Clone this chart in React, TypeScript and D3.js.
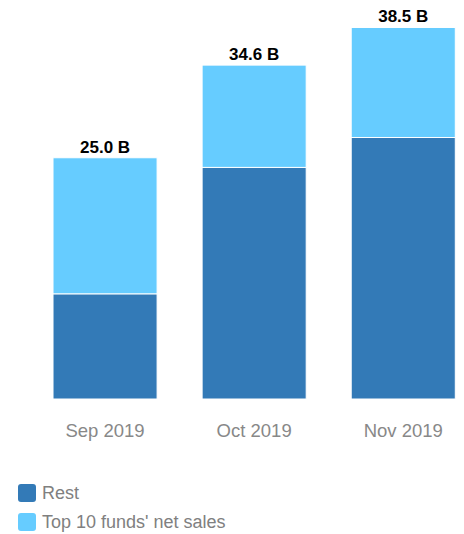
import React from 'react';
import * as d3 from 'd3';

const months = ['Sep 2019', 'Oct 2019', 'Nov 2019'];
const rest = [10.9, 24.0, 27.1];
const top10 = [14.1, 10.6, 11.4];
const totalLabels = ['25.0 B', '34.6 B', '38.5 B'];
const seriesNames = ['Rest', "Top 10 funds' net sales"];
const colors = ['#337ab7', '#66ccff'];

const width = 464;
const height = 534;
const font = '"Liberation Sans", Arial, sans-serif';

export default function App() {
  const x = d3.scaleBand()
    .domain(months)
    .range([30.65, 477.65])
    .paddingInner(0.302)
    .paddingOuter(0.15);
  const y = d3.scaleLinear()
    .domain([0, 40])
    .range([399, 13]);

  const rows = months.map((m, i) => ({ month: m, rest: rest[i], top10: top10[i] }));
  const stacked = d3.stack<any>().keys(['rest', 'top10'])(rows);

  return (
    <svg width={width} height={height}
      style={{ position: 'absolute', left: 0, top: 0, fontFamily: font }}>
      {stacked.map((layer, li) => (
        <g key={layer.key}>
          {layer.map((d, i) => (
            <rect key={i}
              x={x(months[i])}
              y={y(d[1])}
              width={x.bandwidth()}
              height={y(d[0]) - y(d[1])}
              fill={colors[li]}
              stroke="#fff"
              strokeWidth={1} />
          ))}
        </g>
      ))}
      {months.map((m, i) => (
        <text key={m}
          x={x(m)! + x.bandwidth() / 2}
          y={y(rest[i] + top10[i]) - 5}
          textAnchor="middle"
          fontWeight="bold"
          fontSize={17}
          fill="#000">{totalLabels[i]}</text>
      ))}
      {months.map((m) => (
        <text key={m}
          x={x(m)! + x.bandwidth() / 2}
          y={437}
          textAnchor="middle"
          fontSize={18.5}
          fill="#888">{m}</text>
      ))}
      {seriesNames.map((s, i) => (
        <g key={s} transform={`translate(18, ${484 + i * 29})`}>
          <rect width={18} height={18} rx={3} fill={colors[i]} />
          <text x={24} y={15} fontSize={18} fill="#808080">{s}</text>
        </g>
      ))}
    </svg>
  );
}
